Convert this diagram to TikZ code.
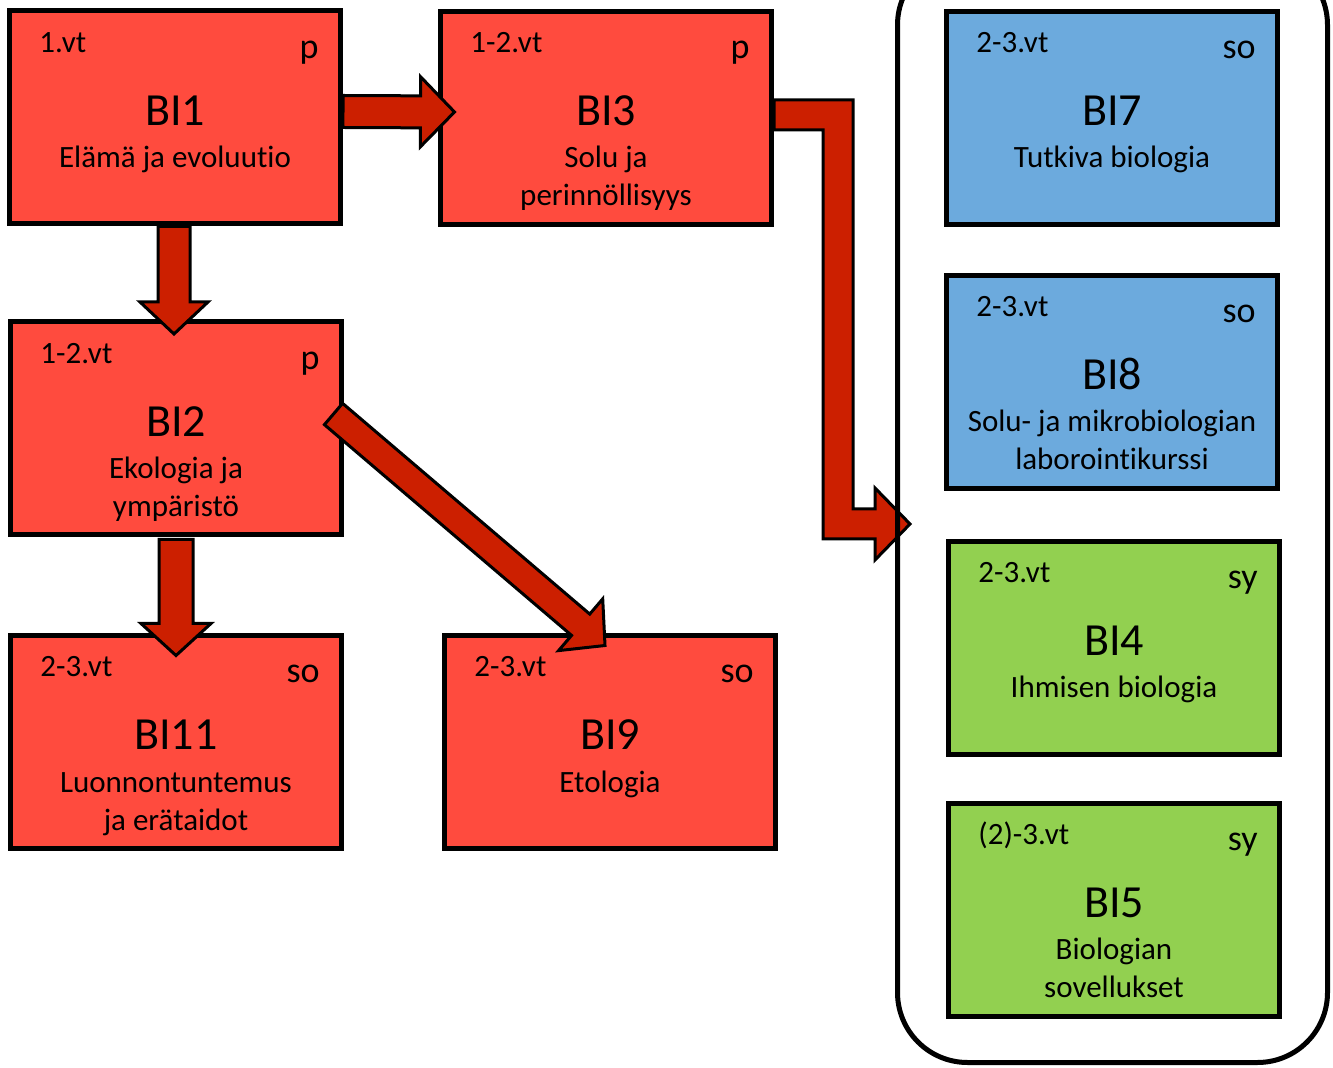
\documentclass[tikz,border=0pt]{standalone}
\usepackage{fontspec}
\setmainfont{Carlito}[Ligatures={NoCommon}]
\usetikzlibrary{calc}
\definecolor{punainen}{RGB}{255,75,62}
\definecolor{tumma}{RGB}{204,31,0}
\definecolor{sininen}{RGB}{108,170,221}
\definecolor{vihrea}{RGB}{146,208,80}
\tikzset{
 kurssi/.style={draw,line width=2.5pt,minimum width=165.5pt,minimum height=106.5pt,inner sep=0pt},
 nuoli/.style={draw,fill=tumma,line width=1.5pt,line join=miter},
 koodi/.style={font=\fontsize{23}{28}\selectfont,anchor=base,inner sep=0pt},
 nimi/.style={font=\fontsize{15.5}{19}\selectfont,anchor=base,inner sep=0pt},
 vt/.style={font=\fontsize{15.5}{18}\selectfont,anchor=base west,inner sep=0pt},
 tyyppi/.style={font=\fontsize{18}{22}\selectfont,anchor=base east,inner sep=0pt},
 kehys/.style={draw,line width=2.5pt,rounded corners=35pt,minimum width=215pt,minimum height=553.75pt}
}
% block arrow: from, to, half shaft, half head, head length
\newcommand\blokki[5]{%
\path ($(#2)!#5!(#1)$) coordinate (nk);
\draw[nuoli] ($(#1)!#3!90:(#2)$) -- ($(nk)!#3!90:(#2)$) -- ($(nk)!#4!90:(#2)$) -- (#2)
 -- ($(nk)!#4!-90:(#2)$) -- ($(nk)!#3!-90:(#2)$) -- ($(#1)!#3!-90:(#2)$) -- cycle;}
\begin{document}
\begin{tikzpicture}[x=0.5pt,y=-0.5pt]
\useasboundingbox (0,0) rectangle (1333,1068);
\foreach \n/\x/\y/\v/\t/\k/\s/\c in {
 b1/175/117.5/1.vt/p/BI1/{Elämä ja evoluutio}/punainen,
 b3/606/118/1-2.vt/p/BI3/{Solu ja\\perinnöllisyys}/punainen,
 b2/176/428.5/1-2.vt/p/BI2/{Ekologia ja\\ympäristö}/punainen,
 b11/176/742/2-3.vt/so/BI11/{Luonnontuntemus\\ja erätaidot}/punainen,
 b9/610/742/2-3.vt/so/BI9/Etologia/punainen,
 b7/1112/118/2-3.vt/so/BI7/{Tutkiva biologia}/sininen,
 b8/1112/382/2-3.vt/so/BI8/{Solu- ja mikrobiologian\\laborointikurssi}/sininen,
 b4/1114/648/2-3.vt/sy/BI4/{Ihmisen biologia}/vihrea,
 b5/1114/909.5/(2)-3.vt/sy/BI5/{Biologian\\sovellukset}/vihrea}
{
\node[kurssi,fill=\c] (\n) at (\x,\y) {};
\node[vt] (\n-vt) at ([shift={(32,44)}]\n.north west) {\v};
\node[tyyppi] (\n-t) at ([shift={(-24,50)}]\n.north east) {\t};
\node[koodi] (\n-k) at ([shift={(0,117)}]\n.north) {\k};
\node[nimi] (\n-s) at ([shift={(0,159)}]\n.north) {\begin{tabular}[t]{@{}c@{}}\s\end{tabular}};
}
\coordinate (a1) at ([shift={(0,-6)}]b1.east);
\coordinate (k1) at ([shift={(16.5,-6)}]b3.west);
\coordinate (a2) at ([shift={(-1,0)}]b1.south);
\coordinate (k2) at ([shift={(-2,14.5)}]b2.north);
\coordinate (a4) at ([shift={(0,2)}]b2.south);
\coordinate (k4) at ([shift={(0,22.5)}]b11.north);
\coordinate (a5) at ([shift={(-10.5,-14.5)}]b2.east);
\coordinate (k5) at ([shift={(-5,12.5)}]b9.north);
\coordinate (a3) at ([shift={(0,-3)}]b3.east);
\coordinate (k3) at (910,524);
\blokki{a1}{k1}{8pt}{17.5pt}{17pt}
\blokki{a2}{k2}{8pt}{17pt}{16pt}
\blokki{a4}{k4}{8.5pt}{17.5pt}{16pt}
\blokki{a5}{k5}{7pt}{17pt}{16pt}
\draw[nuoli] ([shift={(0,-15)}]a3) -| ([shift={(-57,-15)}]k3) -- ++(22,0) -- ++(0,-21) -- (k3)
 -- ++(-35,36) -- ++(0,-21) -- ([shift={(-87,15)}]k3) |- ([shift={(0,15)}]a3) -- cycle;
\node[kehys] (kori) at (1112.5,508.75) {};
\end{tikzpicture}
\end{document}
